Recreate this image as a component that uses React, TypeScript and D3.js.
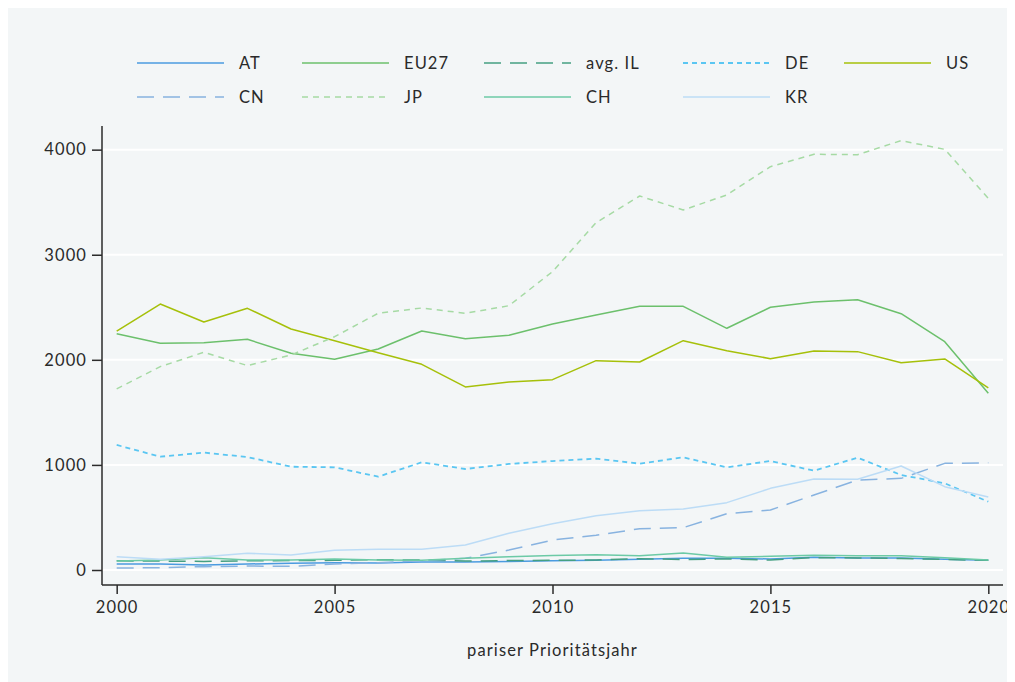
import { useEffect, useRef } from 'react';
import * as d3 from 'd3';

// values
const years = d3.range(2000, 2021);
const AT = [57, 57, 48, 57, 64, 70, 67, 76, 76, 80, 88, 92, 102, 111, 111, 105, 121, 114, 114, 102, 92];
const EU27 = [2249, 2157, 2163, 2195, 2062, 2005, 2103, 2274, 2201, 2233, 2340, 2427, 2509, 2509, 2300, 2500, 2550, 2572, 2439, 2173, 1681];
const avgIL = [88, 85, 82, 88, 90, 92, 98, 95, 85, 90, 92, 95, 108, 100, 105, 95, 118, 115, 110, 100, 92];
const DE = [1190, 1078, 1117, 1075, 983, 977, 888, 1025, 961, 1009, 1037, 1059, 1012, 1072, 977, 1037, 945, 1069, 904, 825, 650];
const US = [2274, 2531, 2360, 2490, 2293, 2182, 2068, 1957, 1742, 1789, 1811, 1992, 1979, 2182, 2087, 2011, 2084, 2078, 1973, 2008, 1732];
const CN = [19, 22, 32, 38, 35, 57, 70, 89, 111, 190, 285, 330, 393, 403, 536, 571, 714, 856, 872, 1015, 1020];
const JP = [1723, 1935, 2072, 1945, 2046, 2220, 2443, 2493, 2443, 2515, 2839, 3305, 3559, 3426, 3569, 3838, 3956, 3952, 4086, 4003, 3537];
const CH = [86, 95, 117, 95, 95, 105, 95, 92, 111, 127, 138, 146, 136, 162, 121, 130, 140, 136, 136, 117, 95];
const KR = [127, 102, 127, 159, 143, 187, 197, 197, 238, 349, 441, 517, 564, 580, 641, 777, 866, 863, 990, 793, 695];

const yTicks = [0, 1000, 2000, 3000, 4000];
const xTicks = [2000, 2005, 2010, 2015, 2020];

const series = [
  { name: 'AT', values: AT, color: '#4b9be0', dash: null, width: 1.5 },
  { name: 'EU27', values: EU27, color: '#6cc06c', dash: null, width: 1.5 },
  { name: 'avg. IL', values: avgIL, color: '#45a082', dash: '17,9', width: 1.5 },
  { name: 'DE', values: DE, color: '#5ac6f2', dash: '5,4', width: 1.8 },
  { name: 'US', values: US, color: '#a6c00a', dash: null, width: 1.5 },
  { name: 'CN', values: CN, color: '#88b3e0', dash: '17,9', width: 1.5 },
  { name: 'JP', values: JP, color: '#a6daa4', dash: '6,5', width: 1.5 },
  { name: 'CH', values: CH, color: '#6ccaa6', dash: null, width: 1.5 },
  { name: 'KR', values: KR, color: '#bcdcf6', dash: null, width: 1.5 },
];

export default function App() {
  const ref = useRef<SVGSVGElement | null>(null);

  useEffect(() => {
    document.documentElement.style.overflow = 'hidden';
    document.body.style.overflow = 'hidden';
    if (!ref.current) return;
    const svg = d3.select(ref.current);
    svg.selectAll('*').remove();

    const W = 1007, H = 674;
    const font = 'Lato, "DejaVu Sans", sans-serif';
    const fs = '16.5px';
    const ls = '1.1px';
    // svg sits at the body margin (8,8); coordinates below are svg-local
    const left = 94, right = 995, top = 118, bottom = 577;

    svg.append('rect').attr('width', W).attr('height', H).attr('fill', '#f3f6f7');

    const x = d3.scaleLinear().domain([1999.663, 2020.337]).range([left, right]);
    const y = d3.scaleLinear().domain([-142.7, 4225]).range([bottom, top]);

    // gridlines
    svg.append('g').selectAll('line').data(yTicks).enter().append('line')
      .attr('x1', left).attr('x2', right)
      .attr('y1', d => y(d)).attr('y2', d => y(d))
      .attr('stroke', '#ffffff').attr('stroke-width', 2);

    // axes
    const yAxis = svg.append('g').attr('transform', `translate(${left},0)`)
      .call(d3.axisLeft(y).tickValues(yTicks).tickSize(10).tickPadding(5).tickFormat(d3.format('d')));
    const xAxis = svg.append('g').attr('transform', `translate(0,${bottom})`)
      .call(d3.axisBottom(x).tickValues(xTicks).tickSize(9).tickPadding(7).tickFormat(d3.format('d')));
    [yAxis, xAxis].forEach(a => {
      a.select('.domain').attr('stroke', '#2b2b2b').attr('stroke-width', 1.5);
      a.selectAll('.tick line').attr('stroke', '#2b2b2b').attr('stroke-width', 1.5);
      a.selectAll('.tick text').attr('fill', '#2a2a2a')
        .style('font-family', font).style('font-size', fs).style('letter-spacing', ls);
    });
    yAxis.select('.domain').attr('d', `M0,${bottom}V${top}`);
    xAxis.select('.domain').attr('d', `M${left},0H${right}`);

    // axis title
    svg.append('text')
      .attr('x', (x(2000) + x(2020)) / 2).attr('y', 648)
      .attr('text-anchor', 'middle')
      .style('font-family', font).style('font-size', fs).style('letter-spacing', ls)
      .attr('fill', '#2a2a2a')
      .text('pariser Prioritätsjahr');

    // lines
    const line = d3.line<number>()
      .x((_, i) => x(years[i]))
      .y(d => y(d));
    series.forEach(s => {
      svg.append('path')
        .datum(s.values)
        .attr('d', line)
        .attr('fill', 'none')
        .attr('stroke', s.color)
        .attr('stroke-width', s.width)
        .attr('stroke-dasharray', s.dash)
        .attr('stroke-linejoin', 'round');
    });

    // legend: 5 columns, 2 rows
    const colX = [129, 294, 476, 675, 836];
    const rowY = [55, 89];
    const legend = svg.append('g');
    series.forEach((s, i) => {
      const cx = colX[i % 5];
      const cy = rowY[Math.floor(i / 5)];
      legend.append('line')
        .attr('x1', cx).attr('x2', cx + 87)
        .attr('y1', cy).attr('y2', cy)
        .attr('stroke', s.color).attr('stroke-width', s.width)
        .attr('stroke-dasharray', s.dash);
      legend.append('text')
        .attr('x', cx + 102).attr('y', cy).attr('dy', '0.35em')
        .style('font-family', font).style('font-size', fs).style('letter-spacing', ls)
        .attr('fill', '#2a2a2a')
        .text(s.name);
    });
  }, []);

  return <svg ref={ref} width={1007} height={674} style={{ display: 'block' }} />;
}
